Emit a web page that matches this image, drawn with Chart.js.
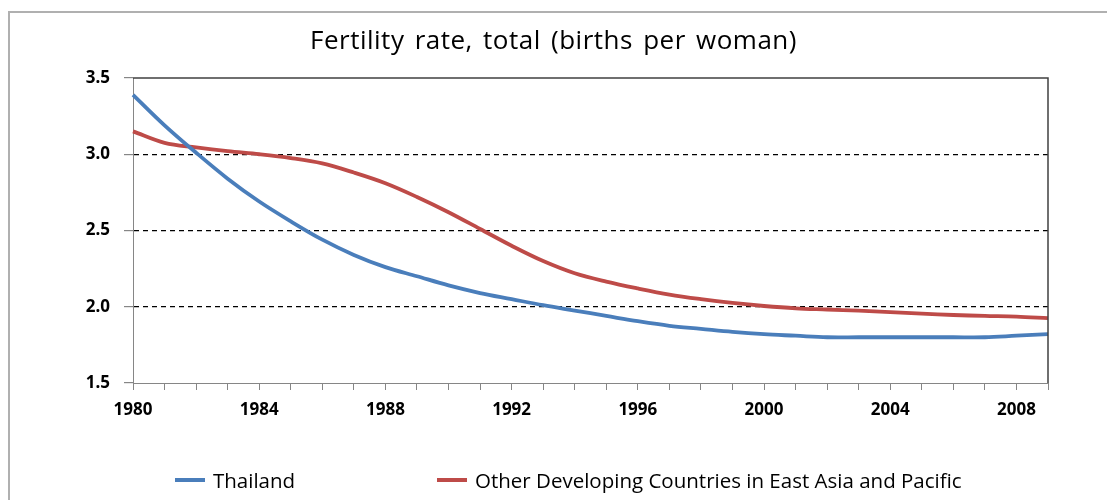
<!DOCTYPE html>
<html>
<head>
<meta charset="utf-8">
<script src="https://cdn.jsdelivr.net/npm/chart.js@4.4.0/dist/chart.umd.min.js"></script>
<style>
    body { margin: 0; background: #fff; }
    #marco {
        position: relative;
        width: 1107px;
        height: 500px;
        overflow: hidden;
        background: #fff;
    }
    #borde {
        position: absolute;
        left: 8px;
        top: 11px;
        width: 1200px;
        height: 600px;
        border-left: 2px solid #b0b0b0;
        border-top: 2px solid #b0b0b0;
    }
    #grafico { position: absolute; left: 0; top: 0; }
    #titulo {
        position: absolute;
        left: 0;
        top: 21px;
        width: 1107px;
        text-align: center;
        font-family: "Open Sans", sans-serif;
        font-size: 26px;
        letter-spacing: 0.5px;
        word-spacing: 3px;
        color: #000;
    }
    #leyenda {
        position: absolute;
        left: 175px;
        top: 466px;
        display: flex;
        font-family: "Open Sans", sans-serif;
        font-size: 20.5px;
        color: #000;
    }
    .item { display: flex; align-items: center; }
    .item:first-child { width: 262px; }
    .linea { width: 30px; height: 4px; margin-right: 8px; }
</style>
</head>
<body>
<div id="marco">
    <div id="borde"></div>
    <canvas id="grafico" width="1107" height="500"></canvas>
    <div id="titulo">Fertility rate, total (births per woman)</div>
    <div id="leyenda"></div>
</div>

<script>
// Datos
const anios = [
    "1980", "1981", "1982", "1983", "1984", "1985", "1986", "1987", "1988", "1989",
    "1990", "1991", "1992", "1993", "1994", "1995", "1996", "1997", "1998", "1999",
    "2000", "2001", "2002", "2003", "2004", "2005", "2006", "2007", "2008", "2009"
];

const tailandia = [
    3.39, 3.19, 3.01, 2.84, 2.69, 2.56, 2.44, 2.34, 2.26, 2.20,
    2.14, 2.09, 2.05, 2.01, 1.975, 1.94, 1.905, 1.875, 1.855, 1.835,
    1.82, 1.81, 1.80, 1.80, 1.80, 1.80, 1.80, 1.80, 1.81, 1.82
];

const otrosPaises = [
    3.15, 3.075, 3.045, 3.02, 3.00, 2.975, 2.94, 2.88, 2.81, 2.72,
    2.62, 2.51, 2.40, 2.30, 2.22, 2.165, 2.12, 2.08, 2.05, 2.025,
    2.005, 1.99, 1.982, 1.974, 1.965, 1.955, 1.946, 1.94, 1.935, 1.925
];

const nombres = ["Thailand", "Other Developing Countries in East Asia and Pacific"];
const colores = ["#4a7ebb", "#be4b48"];

const ticksY = [1.5, 2.0, 2.5, 3.0, 3.5];
const lineasPunteadas = [2.0, 2.5, 3.0];

// Marco superior y derecho del área de trazado
const marcoPlot = {
    id: "marcoPlot",
    afterDraw(chart) {
        const { ctx, chartArea } = chart;
        ctx.save();
        ctx.strokeStyle = "#404040";
        ctx.lineWidth = 1.5;
        ctx.beginPath();
        ctx.moveTo(chartArea.left, chartArea.top);
        ctx.lineTo(chartArea.right, chartArea.top);
        ctx.lineTo(chartArea.right, chartArea.bottom);
        ctx.stroke();
        ctx.restore();
    }
};

new Chart(

    document.getElementById("grafico"),

    {
        type: "line",

        data: {
            labels: anios,
            datasets: [
                {
                    label: nombres[0],
                    data: tailandia,
                    borderColor: colores[0],
                    borderWidth: 3.8,
                    pointRadius: 0,
                    tension: 0.35
                },
                {
                    label: nombres[1],
                    data: otrosPaises,
                    borderColor: colores[1],
                    borderWidth: 3.8,
                    pointRadius: 0,
                    tension: 0.35
                }
            ]
        },

        options: {
            responsive: false,
            animation: false,
            layout: {
                padding: { left: 0, top: 78, right: 59, bottom: 77 }
            },
            plugins: {
                legend: { display: false },
                title: { display: false },
                tooltip: { enabled: false }
            },
            scales: {
                x: {
                    offset: false,
                    afterFit: scale => { scale.height = 40; },
                    grid: {
                        drawOnChartArea: false,
                        tickLength: 7,
                        color: "#868686",
                        tickColor: "#868686"
                    },
                    border: { color: "#868686", width: 1 },
                    ticks: {
                        autoSkip: false,
                        maxRotation: 0,
                        padding: 10,
                        color: "#000",
                        font: { family: "Noto Sans", size: 17, weight: "bold" },
                        callback: (valor, i) => (i % 4 === 0 ? anios[i] : "")
                    }
                },
                y: {
                    min: ticksY[0],
                    max: ticksY[ticksY.length - 1],
                    afterFit: scale => { scale.width = 133; },
                    afterBuildTicks: scale => {
                        scale.ticks = ticksY.map(v => ({ value: v }));
                    },
                    grid: {
                        tickLength: 9,
                        tickColor: "#868686",
                        tickBorderDash: [],
                        lineWidth: 1.2,
                        color: ctx =>
                            lineasPunteadas.includes(ctx.tick.value) ? "#000" : "rgba(0,0,0,0)"
                    },
                    border: { color: "#868686", width: 1, dash: [5, 4] },
                    ticks: {
                        padding: 14,
                        color: "#000",
                        font: { family: "Noto Sans", size: 17, weight: "bold" },
                        callback: valor => valor.toFixed(1)
                    }
                }
            }
        },

        plugins: [marcoPlot]
    }

);

// Leyenda
const leyenda = document.getElementById("leyenda");
nombres.forEach((nombre, i) => {
    leyenda.innerHTML += `
        <div class="item">
            <div class="linea" style="background:${colores[i]}"></div>
            <span>${nombre}</span>
        </div>
    `;
});
</script>
</body>
</html>
